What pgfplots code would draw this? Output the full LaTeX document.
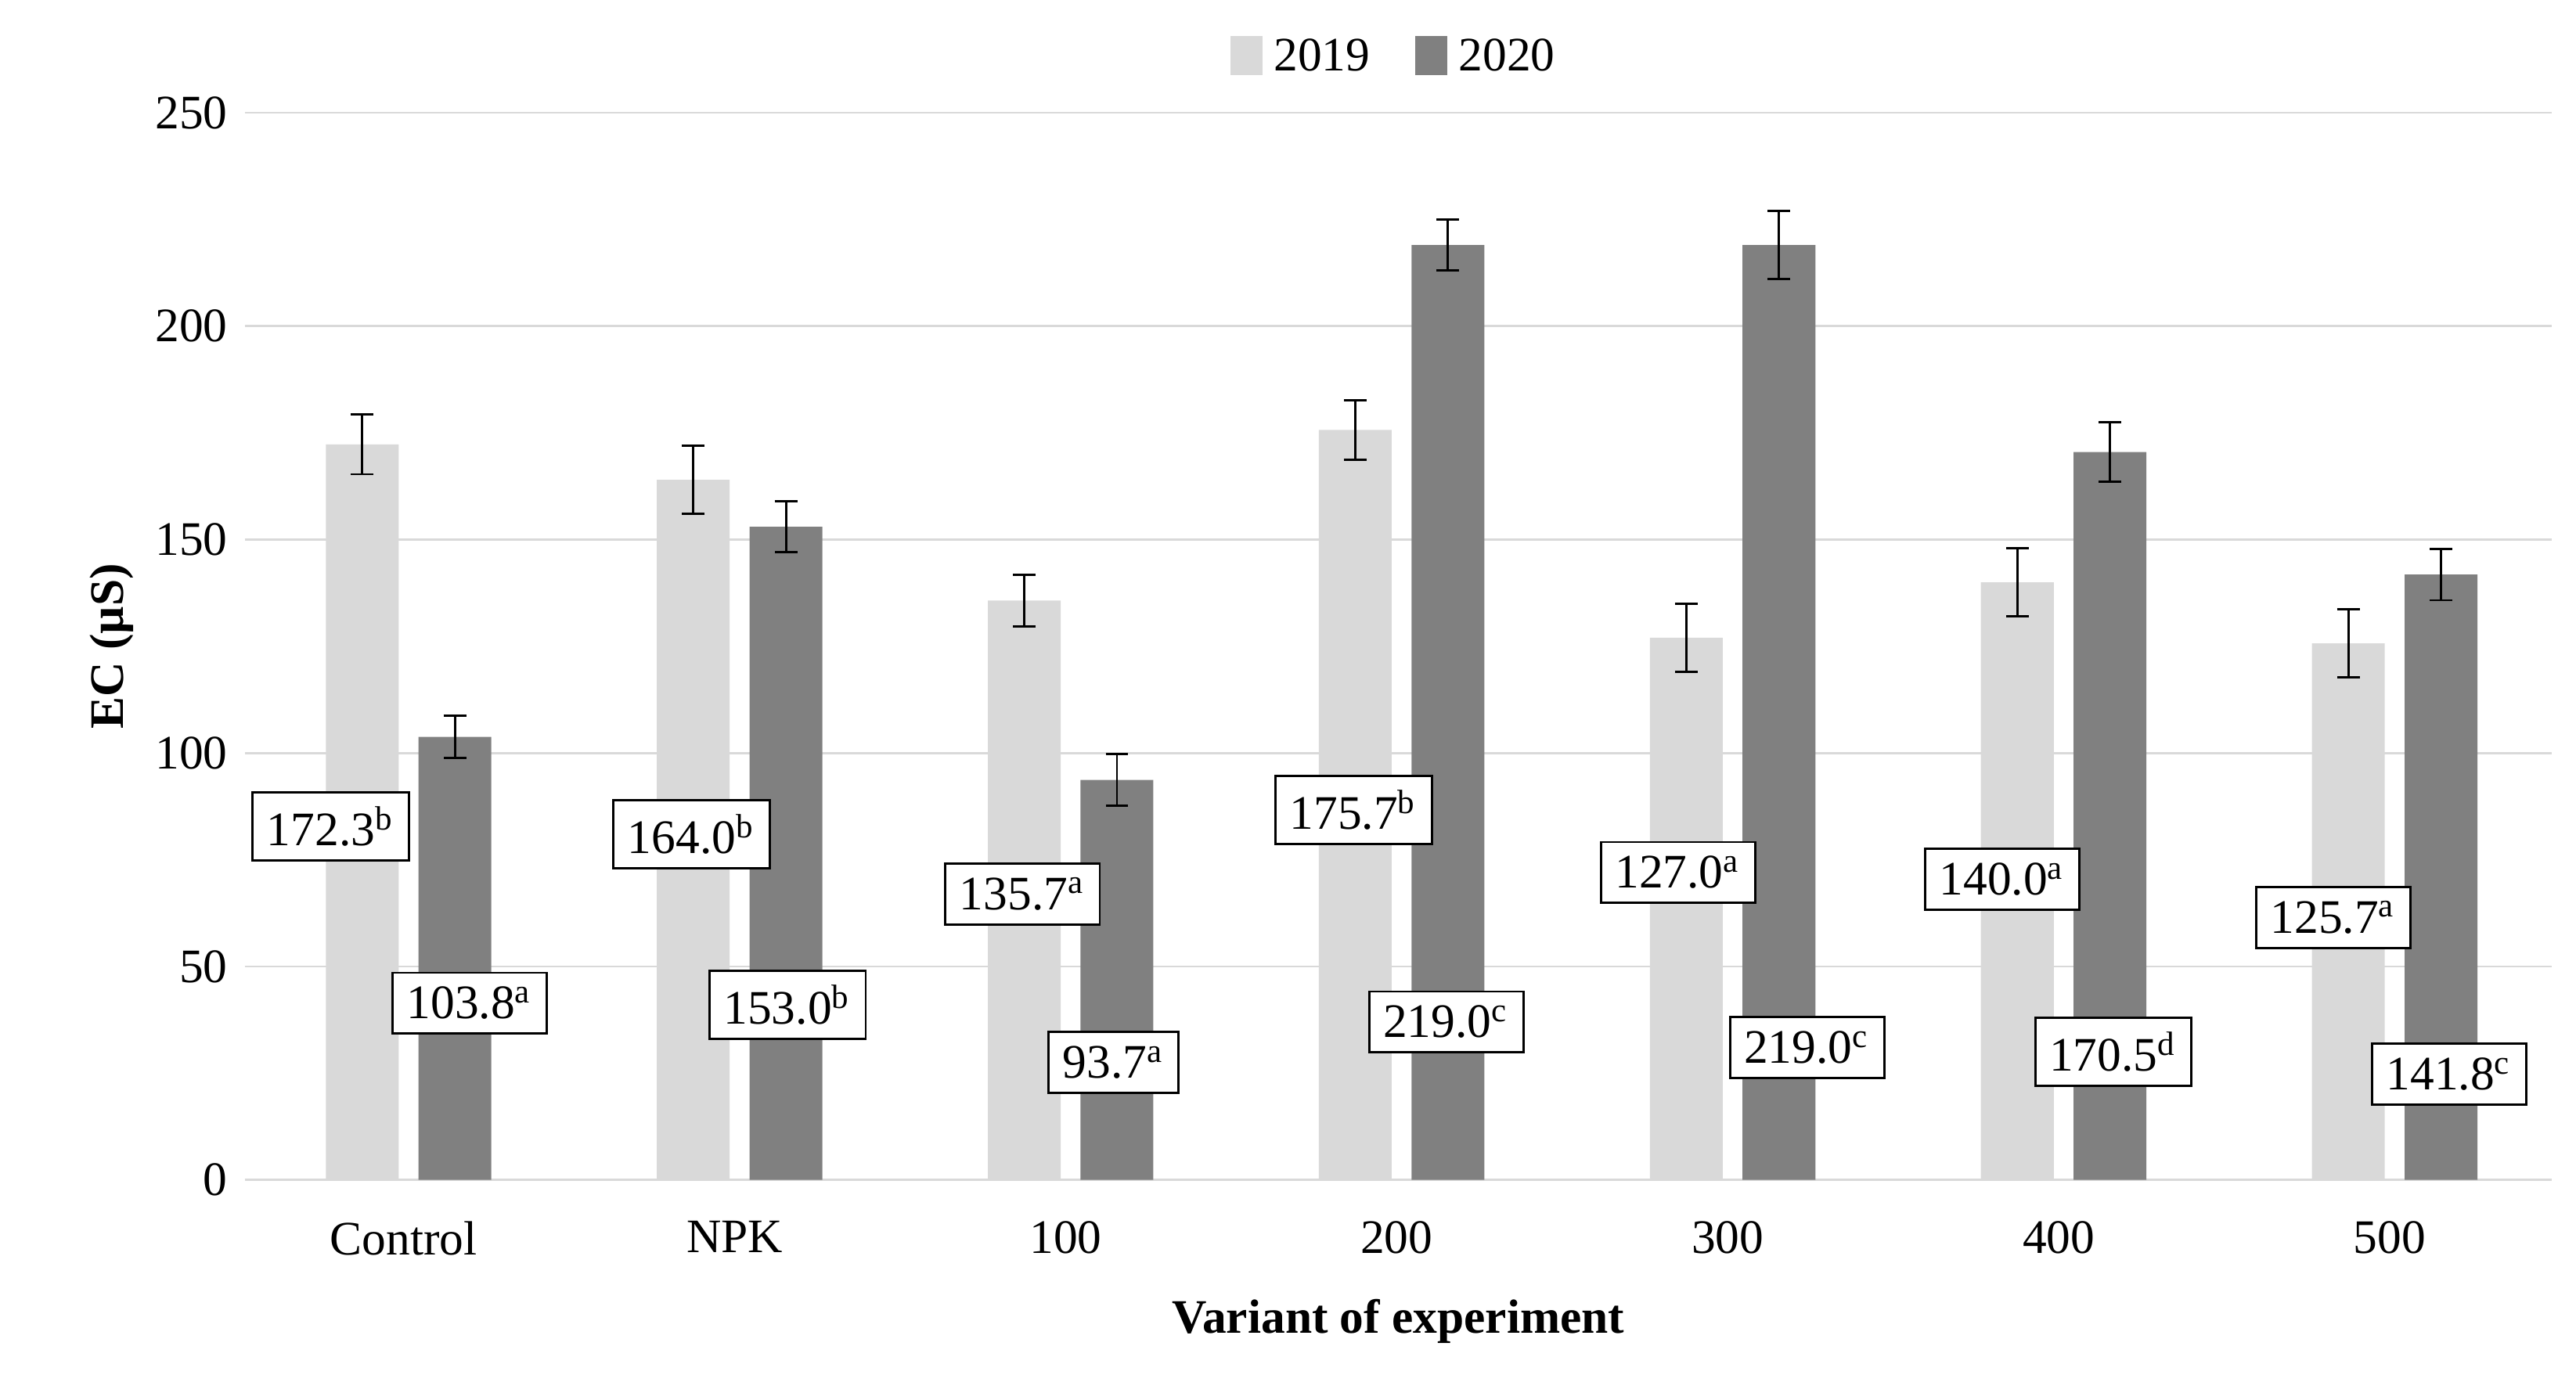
\documentclass[border=0pt]{standalone}
\usepackage{pgfplots}
\pgfplotsset{compat=1.18}
\usepackage{fontspec}
\setmainfont{Liberation Serif}
\definecolor{lg}{HTML}{D9D9D9}
\definecolor{dg}{HTML}{808080}
\begin{document}
\fontsize{8.5}{10}\selectfont
\begin{tikzpicture}
\begin{axis}[
  scale only axis, width=14.33cm, height=6.63cm,
  xmin=-0.48, xmax=6.49, ymin=0, ymax=250,
  ytick={0,50,...,250}, ymajorgrids, grid style={lg, line width=0.4pt},
  axis line style={draw=none}, axis x line*=bottom, x axis line style={lg},
  tick style={draw=none},
  xtick={0,...,6}, xticklabels={Control,NPK,100,200,300,400,500},
  ylabel={\bfseries EC (µS)}, xlabel={\bfseries Variant of experiment},
  ylabel style={yshift=-2pt}, xlabel style={yshift=-2pt},
  /pgf/number format/assume math mode=true,
  ticklabel style={font=\fontsize{8.5}{10}\selectfont},
  label style={font=\fontsize{8.5}{10}\selectfont},
  ybar, bar shift=0pt, bar width=0.22,
  legend style={at={(0.5,1.01)}, anchor=south, draw=none, legend columns=2, font=\fontsize{8.5}{10}\selectfont, /tikz/every even column/.append style={column sep=6pt}},
  legend image code/.code={\draw[#1,draw=none] (0cm,-0.1cm) rectangle (0.2cm,0.14cm);},
  error bars/error bar style={black, line width=0.4pt},
  error bars/error mark options={rotate=90, mark size=2pt, black, line width=0.4pt},
  nodes near coords={}, 
  clip=false,
]
\addplot[fill=lg, draw=none, error bars/.cd, y dir=both, y explicit] coordinates {
(-0.125,172.3) +- (0,7) (0.875,164.0) +- (0,8) (1.875,135.7) +- (0,6) (2.875,175.7) +- (0,7)
(3.875,127.0) +- (0,8) (4.875,140.0) +- (0,8) (5.875,125.7) +- (0,8)};
\addplot[fill=dg, draw=none, error bars/.cd, y dir=both, y explicit] coordinates {
(0.155,103.8) +- (0,5) (1.155,153.0) +- (0,6) (2.155,93.7) +- (0,6) (3.155,219.0) +- (0,6)
(4.155,219.0) +- (0,8) (5.155,170.5) +- (0,7) (6.155,141.8) +- (0,6)};
\legend{2019,2020}
\tikzset{lb/.style={draw=black, fill=white, inner sep=2.5pt, line width=0.4pt}}
\node[lb] at (axis cs:-0.22,82.8) {172.3\textsuperscript{b}};
\node[lb] at (axis cs:0.2,41.4) {103.8\textsuperscript{a}};
\node[lb] at (axis cs:0.87,81) {164.0\textsuperscript{b}};
\node[lb] at (axis cs:1.16,41) {153.0\textsuperscript{b}};
\node[lb] at (axis cs:1.87,67) {135.7\textsuperscript{a}};
\node[lb] at (axis cs:2.145,27.5) {93.7\textsuperscript{a}};
\node[lb] at (axis cs:2.87,86.7) {175.7\textsuperscript{b}};
\node[lb] at (axis cs:3.15,37) {219.0\textsuperscript{c}};
\node[lb] at (axis cs:3.85,72) {127.0\textsuperscript{a}};
\node[lb] at (axis cs:4.24,31) {219.0\textsuperscript{c}};
\node[lb] at (axis cs:4.83,70.4) {140.0\textsuperscript{a}};
\node[lb] at (axis cs:5.165,30) {170.5\textsuperscript{d}};
\node[lb] at (axis cs:5.83,61.5) {125.7\textsuperscript{a}};
\node[lb] at (axis cs:6.18,24.8) {141.8\textsuperscript{c}};
\end{axis}
\useasboundingbox ([shift={(-1.52cm,-1.32cm)}]current axis.south west) rectangle ([shift={(0.15cm,0.70cm)}]current axis.north east);
\end{tikzpicture}
\end{document}
